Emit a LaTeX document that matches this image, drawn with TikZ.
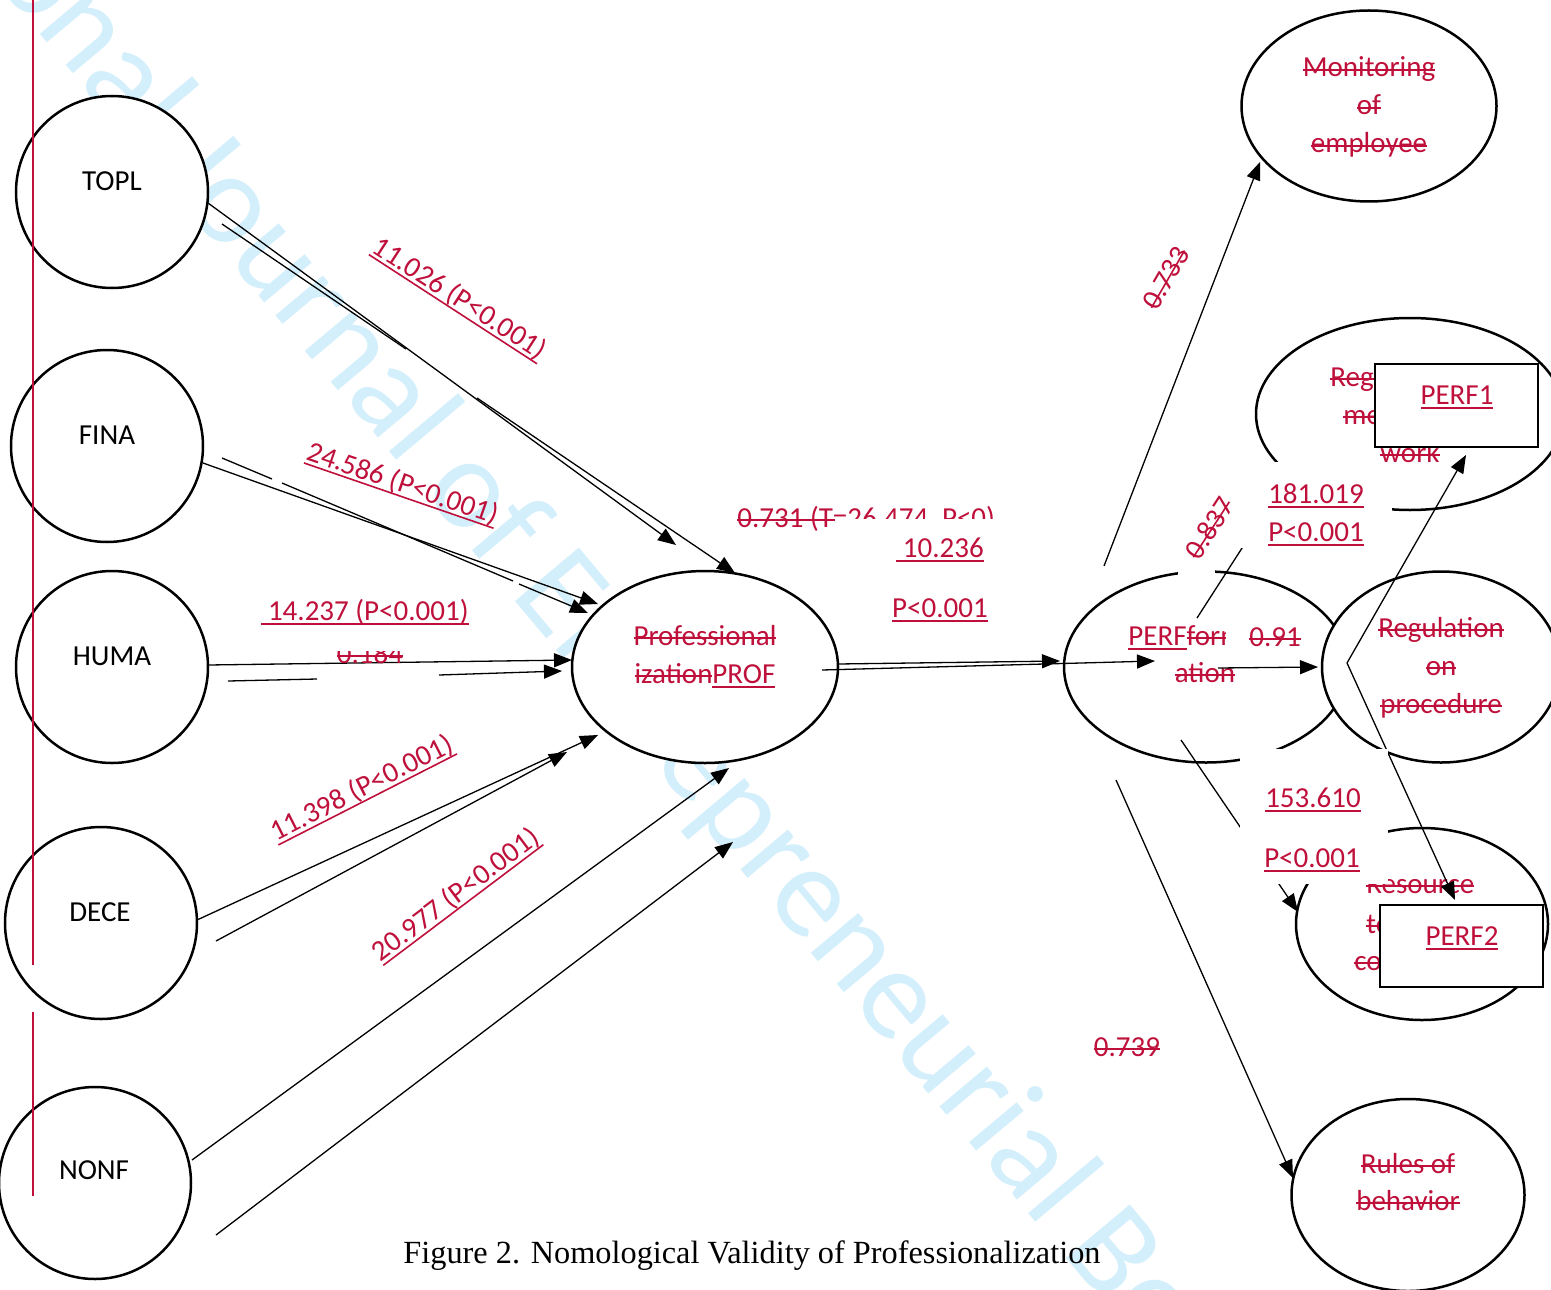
\documentclass[tikz,border=0pt]{standalone}
\usepackage{fontspec}
\setmainfont{Carlito}
\newfontfamily\capfont{Liberation Serif}
\usetikzlibrary{arrows.meta,shapes.geometric}
\definecolor{trk}{RGB}{190,16,58}
\definecolor{wmblue}{RGB}{212,239,252}
\newsavebox\mybox
\newcommand{\myins}[1]{\sbox\mybox{#1}\rlap{\vrule width\wd\mybox height -1.5pt depth 2.3pt}\usebox\mybox}
\newcommand{\mydel}[1]{\sbox\mybox{#1}\rlap{\vrule width\wd\mybox height 3.9pt depth -3.1pt}\usebox\mybox}
\tikzset{
  lbl/.style={font=\fontsize{14.5}{17}\selectfont, text=trk, inner sep=0pt},
  blk/.style={font=\fontsize{14.5}{17}\selectfont, inner sep=0pt},
  ell/.style={ellipse, draw, line width=1.25pt, fill=white, inner sep=0pt},
  arr/.style={line width=0.65pt, -{Triangle[length=9pt,width=7pt]}},
  ln/.style={line width=0.65pt},
  cover/.style={fill=white, draw=none},
  perfbox/.style={draw, line width=1.25pt, fill=white, inner sep=0pt},
  wm/.style={font=\fontsize{65}{70}\selectfont, text=wmblue, inner sep=0pt},
  bar/.style={draw=trk, line width=1pt}
}
\begin{document}
\begin{tikzpicture}[x=0.5pt,y=-0.5pt]
\useasboundingbox (0,0) rectangle (1551,1289);
% watermark
\begin{scope}
\clip (0,0) rectangle (1551,1289);
\node[wm, rotate=-50, anchor=base west] (wmark) at (510,595) {\llap{International Journal of }Entrepreneurial Behaviour};
\end{scope}
% ellipses
\node[ell, minimum width=96pt, minimum height=96pt] (topl) at (112,192) {};
\node[ell, minimum width=96pt, minimum height=96pt] (fina) at (107,446) {};
\node[ell, minimum width=96pt, minimum height=96pt] (huma) at (112,667) {};
\node[ell, minimum width=96pt, minimum height=96pt] (dece) at (101,923) {};
\node[ell, minimum width=96pt, minimum height=96pt] (nonf) at (95,1183) {};
\node[ell, minimum width=133pt, minimum height=96pt] (prof) at (705,667) {};
\node[ell, minimum width=142pt, minimum height=95.5pt] (perf) at (1206,667) {};
\node[ell, minimum width=127.5pt, minimum height=95.5pt] (mon) at (1369,106) {};
\node[ell, minimum width=154pt, minimum height=96pt] (regw) at (1410,414) {};
\node[ell, minimum width=119pt, minimum height=95.5pt] (regp) at (1441,667) {};
\node[ell, minimum width=126pt, minimum height=96pt] (res) at (1422,924) {};
\node[ell, minimum width=116.5pt, minimum height=96pt] (rul) at (1408,1195) {};
% change bars
\coordinate (cb1a) at (33,0); \coordinate (cb1b) at (33,965);
\coordinate (cb2a) at (33,1012); \coordinate (cb2b) at (33,1196);
\draw[bar] (cb1a) -- (cb1b);
\draw[bar] (cb2a) -- (cb2b);
% black labels
\node[blk, anchor=base] (tTOPL) at (112,191) {TOPL};
\node[blk, anchor=base] (tFINA) at (107,444) {FINA};
\node[blk, anchor=base] (tHUMA) at (112,665) {HUMA};
\node[blk, anchor=base] (tDECE) at (100,921) {DECE};
\node[blk, anchor=base] (tNONF) at (94,1179) {NONF};
% ellipse texts
\node[lbl, anchor=base] (tprof1) at (705,645) {\mydel{Professional}};
\node[lbl, anchor=base] (tprof2) at (705,683) {\mydel{ization}\myins{PROF}};
\node[lbl, anchor=base west] (tperf1) at (1128,645) {\myins{PERF}\mydel{form}};
\node[lbl, anchor=base] (tperf2) at (1205,682) {\mydel{ation}};
\node[lbl, anchor=base] (tmon1) at (1369,77) {\mydel{Monitoring}};
\node[lbl, anchor=base] (tmon2) at (1369,115) {\mydel{of}};
\node[lbl, anchor=base] (tmon3) at (1369,153) {\mydel{employee}};
\node[lbl, anchor=base west] (tregw1) at (1330,386) {\mydel{Regulation of}};
\node[lbl, anchor=base west] (tregw2) at (1343,424) {\mydel{method of}};
\node[lbl, anchor=base] (tregw3) at (1410,462) {\mydel{work}};
\node[lbl, anchor=base] (tregp1) at (1441,637) {\mydel{Regulation}};
\node[lbl, anchor=base] (tregp2) at (1441,675) {\mydel{on}};
\node[lbl, anchor=base] (tregp3) at (1441,713) {\mydel{procedure}};
\node[lbl, anchor=base west] (tres1) at (1366,893) {\mydel{Resource}};
\node[lbl, anchor=base west] (tres2) at (1366,933) {\mydel{to}};
\node[lbl, anchor=base west] (tres3) at (1354,970) {\mydel{control}};
\node[lbl, anchor=base] (trul1) at (1408,1173) {\mydel{Rules of}};
\node[lbl, anchor=base] (trul2) at (1408,1210) {\mydel{behavior}};
% gap cover on PERF top
\fill[cover] (1178,562) rectangle (1215,582);
% arrows from TOPL
\coordinate (a1s) at (208,203); \coordinate (a1e) at (676,545);
\draw[arr] (a1s) -- (a1e);
\coordinate (a2s) at (222,224); \coordinate (a2m) at (406,349);
\coordinate (a2n) at (477,398); \coordinate (a2e) at (735,573);
\draw[ln] (a2s) -- (a2m);
\draw[arr] (a2n) -- (a2e);
% FINA
\coordinate (b1s) at (203,463); \coordinate (b1e) at (598,604);
\draw[arr] (b1s) -- (b1e);
\coordinate (b2s) at (222,458); \coordinate (b2a) at (272,479);
\coordinate (b2b) at (282,483); \coordinate (b2c) at (513,581);
\coordinate (b2d) at (519,584); \coordinate (b2e) at (588,613);
\draw[ln] (b2s) -- (b2a);
\draw[ln] (b2b) -- (b2c);
\draw[arr] (b2d) -- (b2e);
% HUMA
\coordinate (c1s) at (208,665); \coordinate (c1e) at (572,660);
\draw[arr] (c1s) -- (c1e);
\coordinate (c2s) at (228,681); \coordinate (c2a) at (317,679);
\coordinate (c2b) at (439,675); \coordinate (c2e) at (562,671);
\draw[ln] (c2s) -- (c2a);
\draw[arr] (c2b) -- (c2e);
% DECE
\coordinate (d1s) at (197,920); \coordinate (d1e) at (598,735);
\draw[arr] (d1s) -- (d1e);
\coordinate (d2s) at (216,941); \coordinate (d2e) at (567,752);
\draw[arr] (d2s) -- (d2e);
% NONF
\coordinate (e1s) at (192,1160); \coordinate (e1e) at (729,768);
\draw[arr] (e1s) -- (e1e);
\coordinate (e2s) at (216,1235); \coordinate (e2e) at (733,842);
\draw[arr] (e2s) -- (e2e);
% PROF -> PERF
\coordinate (f1s) at (838,664); \coordinate (f1e) at (1060,661);
\draw[arr] (f1s) -- (f1e);
\coordinate (f2s) at (822,670); \coordinate (f2e) at (1155,661);
\draw[arr] (f2s) -- (f2e);
% PERF -> right side
\coordinate (gs) at (1218,668); \coordinate (ge) at (1318,667);
\draw[arr] (gs) -- (ge);
\coordinate (hs) at (1104,566); \coordinate (he) at (1260,162);
\draw[arr] (hs) -- (he);
\coordinate (is) at (1116,780); \coordinate (ie) at (1293,1178);
\draw[arr] (is) -- (ie);
\coordinate (js) at (1181,740); \coordinate (je) at (1298,912);
\draw[arr] (js) -- (je);
\coordinate (ks) at (1197,618); \coordinate (ke) at (1262,517);
\draw[ln] (ks) -- (ke);
\coordinate (l0) at (1347,663); \coordinate (l1e) at (1466,455); \coordinate (l2e) at (1455,900);
\draw[arr] (l0) -- (l1e);
\draw[arr] (l0) -- (l2e);
% labels with covers
\node[lbl, anchor=base] (t0184) at (370,663) {\mydel{0.184}};
\fill[cover] (322,628) rectangle (418,651);
\node[lbl, anchor=base] (t14237) at (365,620) {\myins{\ 14.237 (P<0.001)}};
\node[lbl, anchor=base, rotate=-33] (t11026) at (455,306) {\myins{11.026 (P<0.001)}};
\node[lbl, anchor=base, rotate=-19] (t24586) at (400,492) {\myins{24.586 (P<0.001)}};
\node[lbl, anchor=base, rotate=27] (t11398) at (366,796) {\myins{11.398 (P<0.001)}};
\node[lbl, anchor=base, rotate=37] (t20977) at (461,902) {\myins{20.977 (P<0.001)}};
\node[lbl, anchor=base west] (t0731) at (737,527) {\mydel{0.731 (T=26.474, P<0)}};
\fill[cover] (835,519) rectangle (1012,540);
\node[lbl, anchor=base] (t10236) at (940,557) {\myins{\ 10.236}};
\node[lbl, anchor=base] (tp1) at (940,617) {\myins{P<0.001}};
\node[lbl, rotate=60] (t0733) at (1166,278) {\mydel{0.733}};
\node[lbl, rotate=57] (t0837) at (1209,528) {\mydel{0.837}};
\fill[cover] (1226,620) rectangle (1312,653);
\node[lbl, anchor=base] (t091) at (1275,646) {\mydel{0.91}};
\fill[cover] (1240,462) rectangle (1392,548);
\node[lbl, anchor=base] (t181) at (1316,503) {\myins{181.019}};
\node[lbl, anchor=base] (tp2) at (1316,541) {\myins{P<0.001}};
\fill[cover] (1240,749) rectangle (1388,884);
\node[lbl, anchor=base] (t153) at (1313,807) {\myins{153.610}};
\node[lbl, anchor=base] (tp3) at (1312,867) {\myins{P<0.001}};
\node[lbl, anchor=base] (t0739) at (1127,1056) {\mydel{0.739}};
% PERF boxes
\node[perfbox, minimum width=81.5pt, minimum height=41.5pt] (perf1box) at (1456.5,405.5) {};
\node[lbl, anchor=base] (tperf1box) at (1457,404) {\myins{PERF1}};
\node[perfbox, minimum width=81.5pt, minimum height=41pt] (perf2box) at (1461.5,946) {};
\node[lbl, anchor=base] (tperf2box) at (1462,945) {\myins{PERF2}};
% caption
\node[inner sep=0pt, anchor=base, font=\capfont\fontsize{16.15}{19}\selectfont] (cap) at (752,1263) {Figure 2. Nomological Validity of Professionalization};
\end{tikzpicture}
\end{document}
